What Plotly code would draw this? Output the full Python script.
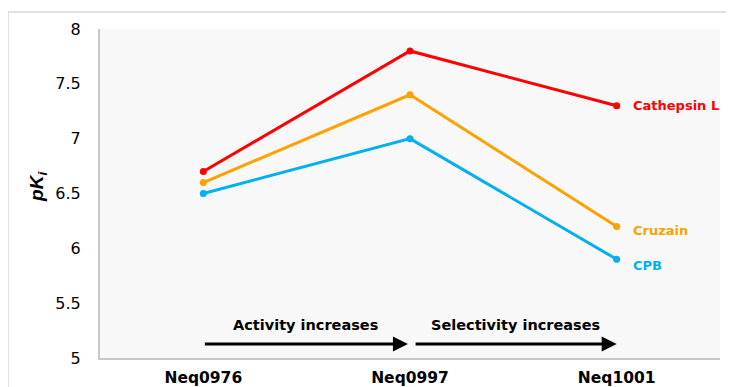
import plotly.graph_objects as go

compounds = ["Neq0976", "Neq0997", "Neq1001"]
series_names = ["Cathepsin L", "Cruzain", "CPB"]
cathepsin_l = [6.7, 7.8, 7.3]
cruzain = [6.6, 7.4, 6.2]
cpb = [6.5, 7.0, 5.9]
colors = ["#ff0000", "#ffa200", "#00b0f0"]
y_ticks = [5, 5.5, 6, 6.5, 7, 7.5, 8]
label_shift = [0, -4, -6]

FONT = "DejaVu Sans"

fig = go.Figure()
for name, vals, col, ys in zip(series_names, [cathepsin_l, cruzain, cpb], colors, label_shift):
    fig.add_trace(go.Scatter(x=[0, 1, 2], y=vals, mode="lines+markers", name=name,
                             line=dict(color=col, width=3), marker=dict(color=col, size=7)))
    fig.add_annotation(x=2, y=vals[-1], text=f"<b>{name}</b>", showarrow=False,
                       xanchor="left", xshift=14, yshift=ys,
                       font=dict(family=FONT, size=13, color=col))

# arrows
arrow_y = 5.127
for x0, x1, txt in [(0, 0.99, "Activity increases"), (1.02, 2.0, "Selectivity increases")]:
    fig.add_annotation(x=x1, y=arrow_y, ax=x0, ay=arrow_y, xref="x", yref="y", axref="x", ayref="y",
                       text="", showarrow=True, arrowhead=2, arrowsize=1, arrowwidth=3, arrowcolor="black")
    fig.add_annotation(x=(x0 + x1) / 2, y=5.3, text=f"<b>{txt}</b>", showarrow=False,
                       font=dict(family=FONT, size=14.5, color="black"))

# y-axis title
fig.add_annotation(x=-0.100, y=0.52, xref="paper", yref="paper", text="<b><i>pK<sub>i</sub></i></b>",
                   showarrow=False, textangle=-90, xanchor="center", yanchor="middle",
                   font=dict(family="Liberation Sans, Arial", size=19, color="black"))

# outer frame lines
fig.add_shape(type="line", xref="paper", yref="paper", x0=-0.1484, x1=1.05, y0=1.0517, y1=1.0517,
              line=dict(color="#d6d6d6", width=1.5))
fig.add_shape(type="line", xref="paper", yref="paper", x0=-0.1484, x1=-0.1484, y0=1.0517, y1=-0.15,
              line=dict(color="#d6d6d6", width=1.5))

fig.update_layout(
    width=734, height=387,
    margin=dict(l=92, r=22, t=21, b=37),
    paper_bgcolor="white", plot_bgcolor="#f8f8f8",
    showlegend=False,
    xaxis=dict(range=[-0.5, 2.5], tickmode="array", tickvals=[0, 1, 2],
               ticktext=[f"<b>{c}</b>" for c in compounds], automargin=False,
               showgrid=False, zeroline=False, showline=True, linecolor="#c8c8c8", linewidth=2,
               ticks="outside", ticklen=4, tickcolor="rgba(0,0,0,0)",
               tickfont=dict(family=FONT, size=15.5, color="black")),
    yaxis=dict(range=[5, 8], tickvals=y_ticks, ticktext=[f"{v:g}" for v in y_ticks], automargin=False,
               showgrid=False, zeroline=False, showline=True, linecolor="#c8c8c8", linewidth=2,
               ticks="outside", ticklen=14, tickcolor="rgba(0,0,0,0)",
               tickfont=dict(family=FONT, size=16, color="black")),
)

fig.write_html("out.html")
